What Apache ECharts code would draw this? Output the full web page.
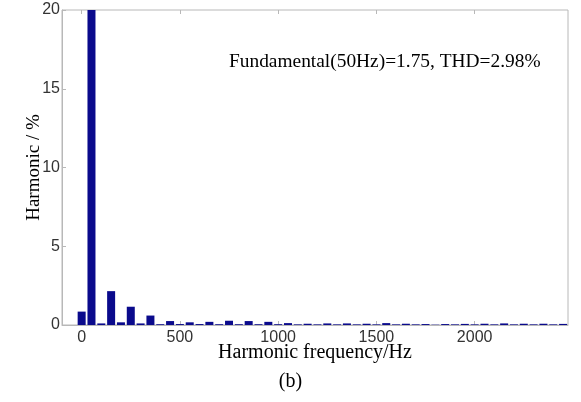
<!DOCTYPE html>
<html><head><meta charset="utf-8">
<script src="https://cdn.jsdelivr.net/npm/echarts@6/dist/echarts.min.js"></script>
<style>html,body{margin:0;padding:0;background:#fff}#c{width:581px;height:402px}</style>
</head><body><div id="c"></div>
<script>
const freqs = [0,50,100,150,200,250,300,350,400,450,500,550,600,650,700,750,800,850,900,950,1000,1050,1100,1150,1200,1250,1300,1350,1400,1450,1500,1550,1600,1650,1700,1750,1800,1850,1900,1950,2000,2050,2100,2150,2200,2250,2300,2350,2400,2450];
const harmonic = [0.85,100,0.1,2.15,0.17,1.16,0.1,0.6,0.05,0.25,0.06,0.17,0.06,0.2,0.05,0.27,0.05,0.25,0.05,0.2,0.05,0.12,0.04,0.08,0.04,0.1,0.04,0.1,0.04,0.08,0.04,0.12,0.04,0.08,0.04,0.06,0.02,0.06,0.04,0.07,0.04,0.08,0.04,0.1,0.04,0.08,0.04,0.08,0.04,0.07];
const xTicks = [0,500,1000,1500,2000];
const yTicks = [0,5,10,15,20];
const annotation = 'Fundamental(50Hz)=1.75, THD=2.98%';
const xTitle = 'Harmonic frequency/Hz';
const yTitle = 'Harmonic / %';
const caption = '(b)';

const chart = echarts.init(document.getElementById('c'));
const gray = '#b8b8b8';
chart.setOption({
  animation: false,
  grid: {left: 62, right: 13, top: 10, bottom: 77, show: true, borderColor: gray, borderWidth: 1},
  xAxis: [{
    type: 'value', min: -100, max: 2475, position: 'bottom',
    axisLine: {show: true, onZero: false, lineStyle: {color: gray}},
    axisTick: {show: true, inside: true, length: 4, customValues: xTicks, lineStyle: {color: gray}},
    axisLabel: {customValues: xTicks, formatter: v => String(v), color: '#333', fontFamily: 'Liberation Sans, Arial', fontSize: 16, margin: 5},
    splitLine: {show: false},
    name: xTitle, nameLocation: 'middle', nameGap: 18, nameMoveOverlap: false,
    nameTextStyle: {color: '#000', fontFamily: 'Liberation Serif, Times New Roman', fontSize: 20}
  }, {
    type: 'value', min: -100, max: 2475, position: 'top',
    axisLine: {show: false, onZero: false},
    axisTick: {show: true, inside: true, length: 4, customValues: xTicks, lineStyle: {color: gray}},
    axisLabel: {show: false}, splitLine: {show: false}
  }],
  yAxis: {
    type: 'value', min: 0, max: 20, interval: 5,
    axisLine: {show: true, onZero: false, lineStyle: {color: gray}},
    axisTick: {show: true, inside: true, length: 4, lineStyle: {color: gray}},
    axisLabel: {color: '#333', fontFamily: 'Liberation Sans, Arial', fontSize: 16, margin: 2},
    splitLine: {show: false},
    name: yTitle, nameLocation: 'middle', nameGap: 18, nameRotate: 90, nameMoveOverlap: false,
    nameTextStyle: {color: '#000', fontFamily: 'Liberation Serif, Times New Roman', fontSize: 19}
  },
  series: [{
    type: 'bar', xAxisIndex: 0, barWidth: 8, clip: true,
    itemStyle: {color: '#0a0a8c'},
    data: freqs.map((f, i) => [f, harmonic[i]])
  }],
  graphic: [
    {type: 'text', left: 229, top: 52, style: {text: annotation, fill: '#000', font: '19.4px "Liberation Serif", "Times New Roman", serif'}},
    {type: 'text', left: 'center', top: 372, style: {text: caption, fill: '#000', font: '20px "Liberation Serif", "Times New Roman", serif'}}
  ]
});
</script></body></html>
